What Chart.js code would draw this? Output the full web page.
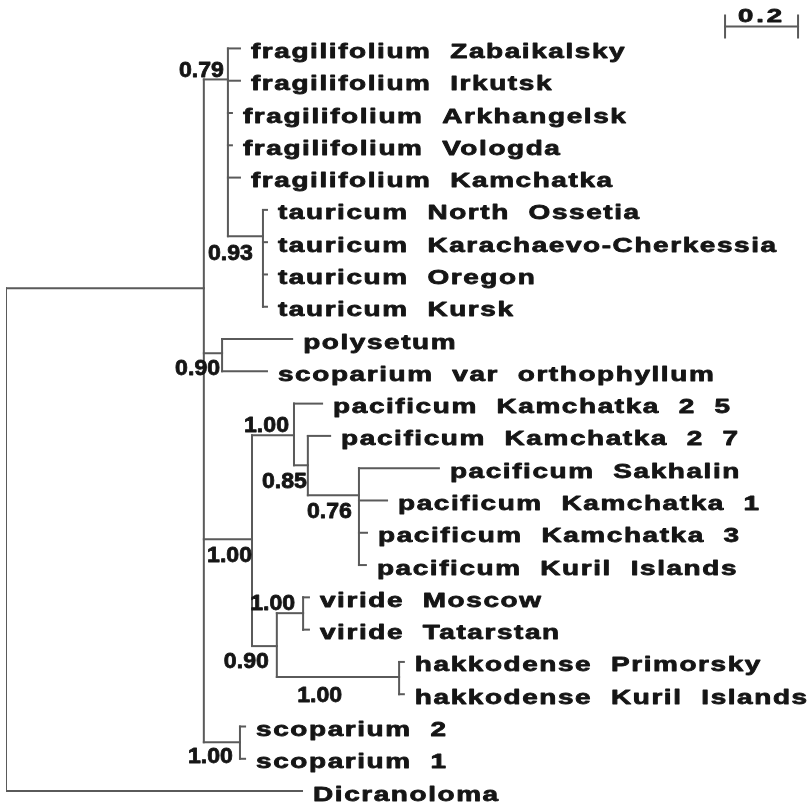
<!DOCTYPE html>
<html>
<head>
<meta charset="utf-8">
<script src="https://cdn.jsdelivr.net/npm/chart.js@4/dist/chart.umd.min.js"></script>
<style>
  body { margin: 0; background: #fff; }
  #tree { display: block; }
</style>
</head>
<body>
<canvas id="tree" width="812" height="804"></canvas>
<script>
// leaves, top to bottom (row = index)
const taxa = [
    'fragilifolium Zabaikalsky', 'fragilifolium Irkutsk', 'fragilifolium Arkhangelsk',
    'fragilifolium Vologda', 'fragilifolium Kamchatka',
    'tauricum North Ossetia', 'tauricum Karachaevo-Cherkessia', 'tauricum Oregon', 'tauricum Kursk',
    'polysetum', 'scoparium var orthophyllum',
    'pacificum Kamchatka 2 5', 'pacificum Kamchatka 2 7', 'pacificum Sakhalin',
    'pacificum Kamchatka 1', 'pacificum Kamchatka 3', 'pacificum Kuril Islands',
    'viride Moscow', 'viride Tatarstan',
    'hakkodense Primorsky', 'hakkodense Kuril Islands',
    'scoparium 2', 'scoparium 1',
    'Dicranoloma'
];
// distance from root to each tip
const tipDepth = [
    0.641, 0.641, 0.619, 0.619, 0.641,
    0.715, 0.715, 0.715, 0.715,
    0.784, 0.715,
    0.866, 0.888, 1.186, 1.044, 0.989, 0.986,
    0.830, 0.830,
    1.090, 1.090,
    0.655, 0.655,
    0.811
];
const tipParent = [
    'FT', 'FT', 'FT', 'FT', 'FT',
    'taur', 'taur', 'taur', 'taur',
    'P', 'P',
    'pac', 'n85', 'n76', 'n76', 'n76', 'n76',
    'vir', 'vir',
    'hakk', 'hakk',
    'SC', 'SC',
    'root'
];

// internal nodes
const nodeIds     = ['root', 'M', 'FT', 'taur', 'P', 'BIG', 'pac', 'n85', 'n76', 'vh', 'vir', 'hakk', 'SC'];
const nodeDepth   = [0, 0.542, 0.608, 0.704, 0.592, 0.674, 0.789, 0.827, 0.967, 0.742, 0.814, 1.077, 0.641];
const nodeRow     = [null, 7.43, 0.96, 5.82, 9.44, 15.20, 11.98, 12.91, 13.84, 18.51, 17.49, 19.47, 21.49];
const nodeParent  = [null, 'root', 'M', 'FT', 'M', 'M', 'BIG', 'pac', 'n85', 'BIG', 'vh', 'vh', 'M'];
const nodeSupport = ['', '', '0.79', '0.93', '0.90', '1.00', '1.00', '0.85', '0.76', '0.90', '1.00', '1.00', '1.00'];

const scaleBarStart = 1.97;
const scaleBarLength = 0.2;

// label placement (px): right edge offset from node, baseline offset from branch
const supportOffset = [
    [0, 0], [0, 0], [-4, -2], [-10, 24], [-2, 22], [0, 23],
    [-5, -3], [-1, 23], [-7, 23], [-8, 22], [-8, -3], [-57, 25], [-7, 21]
];

const lineColor = '#5a5a5a';
const textColor = '#151515';

const idx = id => nodeIds.indexOf(id);

function seg(x1, y1, x2, y2) {
    return {
        data: [{ x: x1, y: y1 }, { x: x2, y: y2 }],
        showLine: true,
        borderColor: lineColor,
        borderWidth: 2,
        pointRadius: 0,
        borderCapStyle: 'square'
    };
}

const datasets = [];
const childRows = nodeIds.map(() => []);

taxa.forEach((t, i) => {
    const p = idx(tipParent[i]);
    datasets.push(seg(nodeDepth[p], i, tipDepth[i], i));
    childRows[p].push(i);
});
nodeIds.forEach((id, i) => {
    if (!nodeParent[i]) return;
    const p = idx(nodeParent[i]);
    datasets.push(seg(nodeDepth[p], nodeRow[i], nodeDepth[i], nodeRow[i]));
    childRows[p].push(nodeRow[i]);
});
nodeIds.forEach((id, i) => {
    const rows = childRows[i];
    datasets.push(seg(nodeDepth[i], Math.min(...rows), nodeDepth[i], Math.max(...rows)));
});

// scale bar
const barRow = -0.68;
datasets.push(seg(scaleBarStart, barRow, scaleBarStart + scaleBarLength, barRow));
datasets.push(seg(scaleBarStart, barRow - 0.34, scaleBarStart, barRow + 0.34));
datasets.push(seg(scaleBarStart + scaleBarLength, barRow - 0.34, scaleBarStart + scaleBarLength, barRow + 0.34));

// heavy, horizontally stretched text like the scanned figure
function drawStretched(ctx, text, x, y, sx, spacing, align) {
    ctx.save();
    ctx.letterSpacing = spacing + 'px';
    const w = ctx.measureText(text).width;
    ctx.translate(x, y);
    ctx.scale(sx, 1);
    ctx.textAlign = 'left';
    let dx = 0;
    if (align === 'right') dx = -w;
    if (align === 'center') dx = -w / 2;
    ctx.lineWidth = 0.8;
    ctx.strokeStyle = textColor;
    ctx.lineJoin = 'round';
    ctx.strokeText(text, dx, 0);
    ctx.fillText(text, dx, 0);
    ctx.restore();
}

const treeLabels = {
    id: 'treeLabels',
    afterDatasetsDraw(chart) {
        const { ctx } = chart;
        const xs = chart.scales.x, ys = chart.scales.y;
        ctx.save();
        ctx.fillStyle = textColor;
        ctx.textBaseline = 'alphabetic';

        ctx.font = 'bold 21px "Liberation Sans", Arial, sans-serif';
        taxa.forEach((t, i) => {
            const x = xs.getPixelForValue(tipDepth[i]) + 11;
            const y = ys.getPixelForValue(i) + 9.5;
            drawStretched(ctx, t.split(' ').join('  '), x, y, 1.33, 1.2, 'left');
        });

        ctx.font = 'bold 22px "Liberation Sans", Arial, sans-serif';
        nodeIds.forEach((id, i) => {
            if (!nodeSupport[i]) return;
            const x = xs.getPixelForValue(nodeDepth[i]) + supportOffset[i][0];
            const y = ys.getPixelForValue(nodeRow[i]) + supportOffset[i][1];
            drawStretched(ctx, nodeSupport[i], x, y, 1.05, 0, 'right');
        });

        ctx.font = 'bold 19px "Liberation Sans", Arial, sans-serif';
        const cx = xs.getPixelForValue(scaleBarStart + scaleBarLength / 2);
        const cy = ys.getPixelForValue(barRow) - 4;
        drawStretched(ctx, String(scaleBarLength), cx, cy, 1.45, 2, 'center');
        ctx.restore();
    }
};

new Chart(document.getElementById('tree'), {
    type: 'scatter',
    data: { datasets },
    options: {
        responsive: false,
        animation: false,
        layout: { padding: { left: 6, right: 3, top: 0, bottom: 0 } },
        plugins: { legend: { display: false }, tooltip: { enabled: false } },
        scales: {
            x: { type: 'linear', display: false, min: 0, max: 2.2 },
            y: { type: 'linear', display: false, reverse: true, min: -1.5, max: 23.4 }
        }
    },
    plugins: [treeLabels]
});
</script>
</body>
</html>
